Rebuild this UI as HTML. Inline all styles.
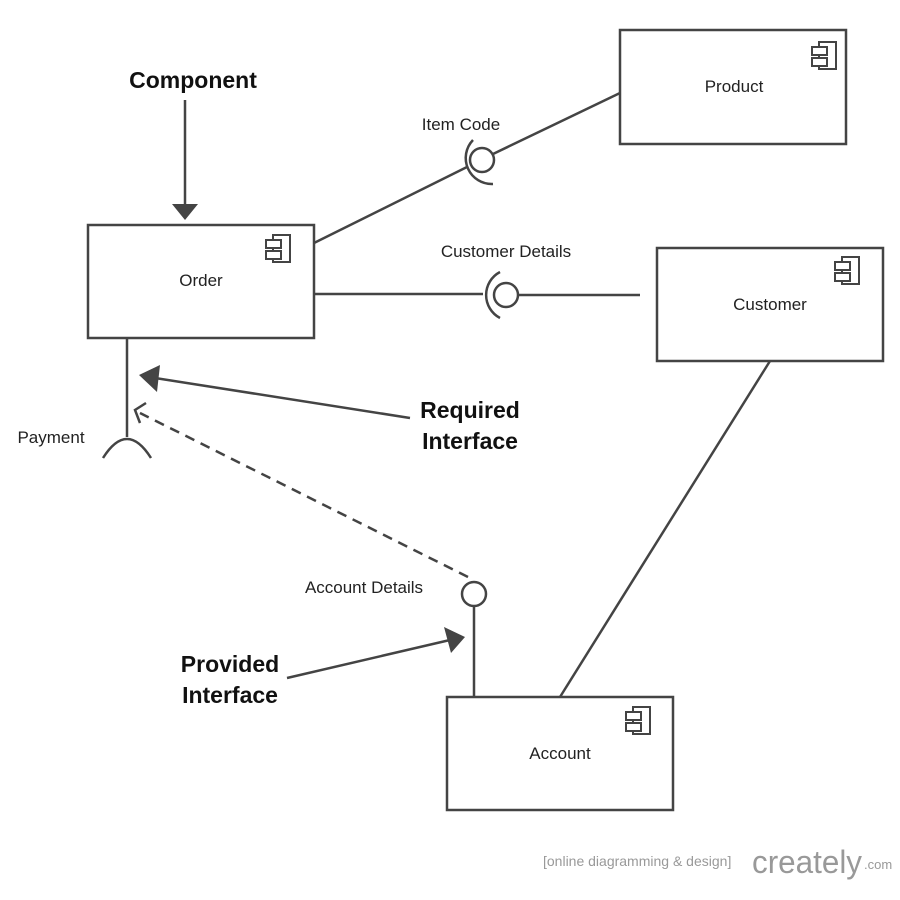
<!DOCTYPE html>
<html><head><meta charset="utf-8"><style>body{margin:0;background:#fff}svg{display:block}</style></head><body>
<svg width="900" height="900" viewBox="0 0 900 900" xmlns="http://www.w3.org/2000/svg" font-family="Liberation Sans, sans-serif">
<defs>
<g id="ic" fill="#fff" stroke="#444" stroke-width="2"><rect x="7" y="0" width="17" height="27"/><rect x="0" y="5" width="15" height="8"/><rect x="0" y="16" width="15" height="8"/></g>
</defs>
<g stroke="#444" stroke-width="2.5" fill="#fff">
<rect x="620" y="30" width="226" height="114"/>
<rect x="88" y="225" width="226" height="113"/>
<rect x="657" y="248" width="226" height="113"/>
<rect x="447" y="697" width="226" height="113"/>
</g>
<use href="#ic" x="812" y="42"/>
<use href="#ic" x="266" y="235"/>
<use href="#ic" x="835" y="257"/>
<use href="#ic" x="626" y="707"/>
<g font-size="17" fill="#222" text-anchor="middle">
<text x="734" y="92">Product</text>
<text x="201" y="286">Order</text>
<text x="770" y="310">Customer</text>
<text x="560" y="759">Account</text>
<text x="461" y="130">Item Code</text>
<text x="506" y="257">Customer Details</text>
<text x="51" y="443">Payment</text>
<text x="364" y="593">Account Details</text>
</g>
<g stroke="#444" stroke-width="2.5" fill="none">
<line x1="314" y1="243" x2="467" y2="167"/>
<path d="M473 140 A26 26 0 0 0 493 184"/>
<circle cx="482" cy="160" r="12"/>
<line x1="493" y1="154" x2="620" y2="93"/>
<line x1="314" y1="294" x2="483" y2="294"/>
<path d="M500 272 A26 26 0 0 0 500 318"/>
<circle cx="506" cy="295" r="12"/>
<line x1="518" y1="295" x2="640" y2="295"/>
<line x1="127" y1="338" x2="127" y2="437"/>
<path d="M103 458 Q127 420 151 458"/>
<circle cx="474" cy="594" r="12"/>
<line x1="474" y1="606" x2="474" y2="697"/>
<line x1="770" y1="361" x2="560" y2="697"/>
<line x1="410" y1="418" x2="155" y2="378"/>
<line x1="287" y1="678" x2="450" y2="640"/>
<line x1="185" y1="100" x2="185" y2="205"/>
<line x1="468" y1="577" x2="140" y2="413" stroke-dasharray="10,7"/>
<path d="M146 403 L135 410 L140 423"/>
</g>
<g fill="#444">
<polygon points="139,375 160,365 157,392"/>
<polygon points="465,637 444,627 451,653"/>
<polygon points="185,220 172,204 198,204"/>
</g>
<g font-size="23" font-weight="bold" fill="#111">
<text x="193" y="88" text-anchor="middle">Component</text>
<text x="470" y="418" text-anchor="middle">Required</text>
<text x="470" y="449" text-anchor="middle">Interface</text>
<text x="230" y="672" text-anchor="middle">Provided</text>
<text x="230" y="703" text-anchor="middle">Interface</text>
</g>
<text x="543" y="866" font-size="14" fill="#999">[online diagramming &amp; design]</text>
<text x="752" y="873" font-size="32" fill="#999" textLength="110" lengthAdjust="spacingAndGlyphs">creately</text>
<text x="864" y="869" font-size="13" fill="#999">.com</text>
</svg>
</body></html>
